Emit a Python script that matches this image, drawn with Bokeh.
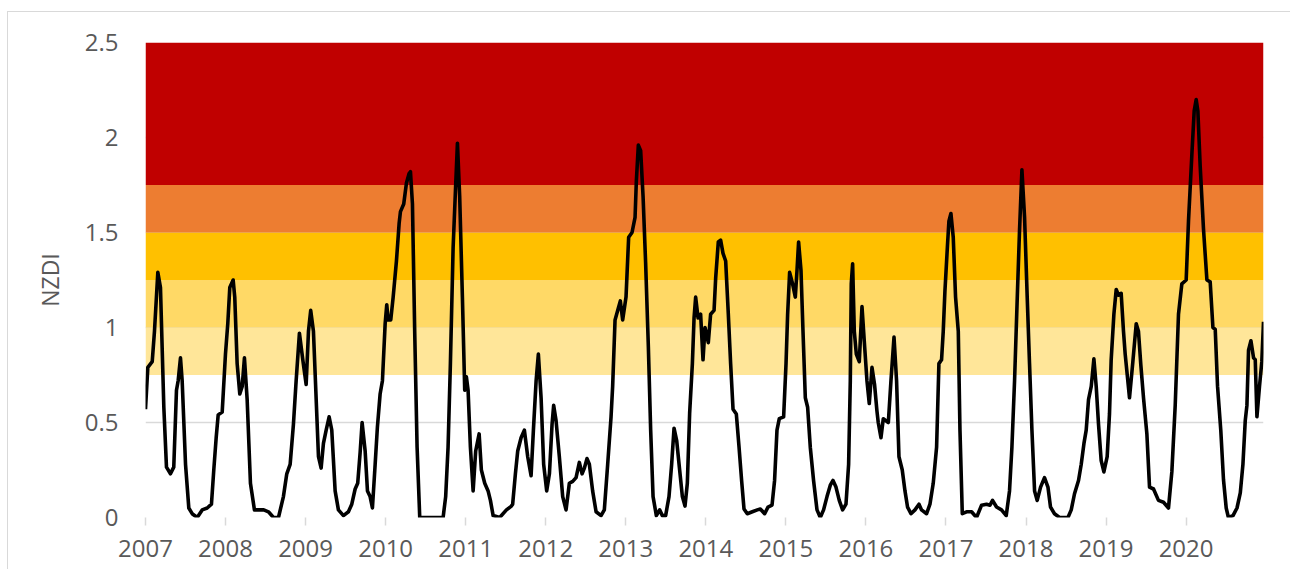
from bokeh.plotting import figure
from bokeh.models import FixedTicker, Range1d
from bokeh.embed import file_html
from bokeh.resources import INLINE

# ---- data ----
years_since_2007 = [
    0.000, 0.029, 0.084, 0.112, 0.154, 0.187, 0.229, 0.262, 0.312, 0.353, 0.387, 0.408, 0.437, 0.458,
    0.500, 0.541, 0.583, 0.646, 0.708, 0.771, 0.824, 0.853, 0.883, 0.908, 0.958, 0.999, 1.028, 1.053,
    1.095, 1.115, 1.145, 1.178, 1.208, 1.236, 1.270, 1.311, 1.361, 1.415, 1.477, 1.536, 1.599, 1.661,
    1.723, 1.765, 1.807, 1.848, 1.882, 1.923, 1.965, 2.007, 2.036, 2.064, 2.098, 2.139, 2.161, 2.194,
    2.223, 2.257, 2.294, 2.327, 2.369, 2.410, 2.473, 2.535, 2.577, 2.619, 2.651, 2.681, 2.706, 2.744,
    2.773, 2.806, 2.835, 2.869, 2.897, 2.931, 2.960, 2.994, 3.014, 3.031, 3.064, 3.094, 3.135, 3.169,
    3.185, 3.226, 3.260, 3.293, 3.310, 3.335, 3.363, 3.393, 3.426, 3.509, 3.718, 3.750, 3.780, 3.809,
    3.843, 3.872, 3.897, 3.925, 3.959, 3.988, 4.009, 4.030, 4.059, 4.093, 4.125, 4.168, 4.196, 4.238,
    4.280, 4.309, 4.343, 4.425, 4.509, 4.571, 4.587, 4.621, 4.650, 4.692, 4.733, 4.775, 4.817, 4.846,
    4.880, 4.908, 4.942, 4.974, 5.012, 5.046, 5.079, 5.099, 5.129, 5.170, 5.212, 5.254, 5.295, 5.337,
    5.379, 5.420, 5.454, 5.483, 5.516, 5.545, 5.586, 5.629, 5.691, 5.732, 5.774, 5.816, 5.836, 5.866,
    5.899, 5.932, 5.961, 6.003, 6.036, 6.078, 6.116, 6.132, 6.157, 6.186, 6.216, 6.248, 6.282, 6.311,
    6.341, 6.382, 6.423, 6.457, 6.498, 6.540, 6.573, 6.603, 6.636, 6.673, 6.707, 6.740, 6.769, 6.798,
    6.832, 6.853, 6.873, 6.903, 6.935, 6.965, 6.990, 7.031, 7.060, 7.103, 7.123, 7.156, 7.185, 7.215,
    7.248, 7.281, 7.310, 7.340, 7.381, 7.415, 7.447, 7.477, 7.518, 7.581, 7.643, 7.681, 7.735, 7.777,
    7.827, 7.859, 7.889, 7.918, 7.972, 8.002, 8.022, 8.047, 8.084, 8.118, 8.139, 8.159, 8.189, 8.214,
    8.243, 8.272, 8.305, 8.346, 8.389, 8.430, 8.471, 8.514, 8.555, 8.589, 8.626, 8.667, 8.709, 8.751,
    8.784, 8.805, 8.817, 8.834, 8.855, 8.880, 8.917, 8.951, 8.984, 9.013, 9.042, 9.076, 9.108, 9.138,
    9.154, 9.188, 9.217, 9.280, 9.313, 9.351, 9.383, 9.413, 9.454, 9.488, 9.520, 9.563, 9.613, 9.663,
    9.695, 9.758, 9.800, 9.841, 9.883, 9.912, 9.945, 9.966, 9.987, 10.020, 10.037, 10.062, 10.091, 10.120,
    10.154, 10.175, 10.204, 10.257, 10.320, 10.382, 10.445, 10.507, 10.550, 10.582, 10.632, 10.694, 10.753, 10.794,
    10.824, 10.857, 10.891, 10.919, 10.949, 10.982, 11.015, 11.044, 11.074, 11.107, 11.140, 11.182, 11.231, 11.274,
    11.306, 11.356, 11.419, 11.524, 11.565, 11.606, 11.656, 11.690, 11.724, 11.752, 11.781, 11.815, 11.848, 11.877,
    11.906, 11.939, 11.973, 12.014, 12.043, 12.064, 12.098, 12.127, 12.155, 12.189, 12.218, 12.239, 12.293, 12.335,
    12.377, 12.405, 12.435, 12.468, 12.510, 12.543, 12.593, 12.655, 12.718, 12.780, 12.822, 12.864, 12.905, 12.947,
    13.001, 13.030, 13.072, 13.101, 13.126, 13.147, 13.176, 13.217, 13.260, 13.301, 13.335, 13.364, 13.393, 13.434,
    13.467, 13.501, 13.529, 13.586, 13.636, 13.677, 13.710, 13.739, 13.760, 13.780, 13.810, 13.843, 13.864, 13.885,
    13.917, 13.946, 13.967,
]
nzdi = [
    0.57, 0.79, 0.82, 0.98, 1.29, 1.21, 0.58, 0.265, 0.23, 0.265, 0.67, 0.72, 0.84, 0.72,
    0.28, 0.05, 0.02, 0.00, 0.04, 0.05, 0.07, 0.25, 0.42, 0.54, 0.555, 0.86, 1.02, 1.21,
    1.25, 1.16, 0.81, 0.65, 0.69, 0.84, 0.62, 0.18, 0.04, 0.04, 0.04, 0.03, 0.00, 0.00,
    0.11, 0.23, 0.28, 0.49, 0.72, 0.97, 0.83, 0.70, 0.98, 1.09, 0.98, 0.55, 0.32, 0.26,
    0.39, 0.46, 0.53, 0.46, 0.14, 0.04, 0.01, 0.03, 0.07, 0.15, 0.18, 0.34, 0.50, 0.35,
    0.14, 0.11, 0.05, 0.28, 0.475, 0.65, 0.72, 1.02, 1.12, 1.04, 1.04, 1.16, 1.35, 1.55,
    1.61, 1.65, 1.76, 1.81, 1.82, 1.65, 0.98, 0.37, 0.00, 0.00, 0.00, 0.11, 0.37, 0.81,
    1.42, 1.72, 1.97, 1.69, 1.16, 0.67, 0.74, 0.67, 0.37, 0.14, 0.35, 0.44, 0.25, 0.18,
    0.14, 0.09, 0.01, 0.00, 0.04, 0.06, 0.07, 0.23, 0.35, 0.42, 0.46, 0.32, 0.22, 0.46,
    0.72, 0.86, 0.63, 0.28, 0.14, 0.23, 0.49, 0.59, 0.51, 0.32, 0.11, 0.04, 0.18, 0.19,
    0.21, 0.29, 0.23, 0.26, 0.31, 0.28, 0.14, 0.03, 0.01, 0.04, 0.28, 0.53, 0.69, 1.04,
    1.09, 1.14, 1.04, 1.16, 1.475, 1.50, 1.58, 1.77, 1.96, 1.93, 1.69, 1.34, 0.90, 0.46,
    0.11, 0.01, 0.04, 0.01, 0.01, 0.11, 0.28, 0.47, 0.405, 0.25, 0.11, 0.06, 0.18, 0.55,
    0.81, 1.05, 1.16, 1.05, 1.07, 0.83, 1.00, 0.92, 1.07, 1.09, 1.26, 1.45, 1.46, 1.39,
    1.35, 1.07, 0.81, 0.57, 0.545, 0.37, 0.195, 0.045, 0.02, 0.03, 0.04, 0.045, 0.02, 0.055,
    0.065, 0.195, 0.46, 0.52, 0.53, 0.81, 1.07, 1.29, 1.23, 1.16, 1.30, 1.45, 1.30, 0.98,
    0.63, 0.58, 0.37, 0.195, 0.04, 0.00, 0.04, 0.11, 0.17, 0.195, 0.16, 0.09, 0.04, 0.07,
    0.28, 0.72, 1.23, 1.335, 0.98, 0.86, 0.82, 1.11, 0.90, 0.72, 0.60, 0.79, 0.70, 0.56,
    0.50, 0.42, 0.52, 0.50, 0.72, 0.95, 0.72, 0.32, 0.25, 0.14, 0.055, 0.02, 0.04, 0.07,
    0.04, 0.02, 0.07, 0.18, 0.37, 0.81, 0.83, 0.98, 1.19, 1.44, 1.56, 1.60, 1.475, 1.16,
    0.98, 0.46, 0.02, 0.03, 0.03, 0.00, 0.065, 0.07, 0.065, 0.09, 0.055, 0.04, 0.01, 0.14,
    0.37, 0.72, 1.16, 1.51, 1.83, 1.58, 1.16, 0.81, 0.46, 0.14, 0.09, 0.16, 0.21, 0.16,
    0.055, 0.02, 0.00, 0.00, 0.04, 0.125, 0.195, 0.28, 0.39, 0.46, 0.62, 0.69, 0.835, 0.69,
    0.49, 0.30, 0.24, 0.32, 0.545, 0.83, 1.07, 1.20, 1.17, 1.18, 0.98, 0.86, 0.63, 0.82,
    1.02, 0.98, 0.80, 0.63, 0.44, 0.16, 0.15, 0.09, 0.08, 0.05, 0.24, 0.59, 1.07, 1.23,
    1.25, 1.56, 1.91, 2.14, 2.20, 2.14, 1.85, 1.52, 1.25, 1.24, 1.00, 0.99, 0.69, 0.455,
    0.20, 0.05, 0.00, 0.01, 0.05, 0.13, 0.28, 0.51, 0.59, 0.88, 0.93, 0.84, 0.83, 0.53,
    0.69, 0.82, 1.03,
]
first_year = 2007
years = [first_year + t for t in years_since_2007]

band_low = [0.75, 1.00, 1.25, 1.50, 1.75]
band_high = [1.00, 1.25, 1.50, 1.75, 2.50]
band_colors = ["#FFE699", "#FFD966", "#FFC000", "#ED7D31", "#C00000"]

year_ticks = list(range(2007, 2021))
y_ticks = [0, 0.5, 1, 1.5, 2, 2.5]
y_tick_labels = ["0", "0.5", "1", "1.5", "2", "2.5"]

x_start, x_end = years[0], years[-1]

p = figure(
    output_backend="svg", toolbar_location=None,
    frame_width=1118, frame_height=475,
    min_border_left=137, min_border_right=27, min_border_top=30, min_border_bottom=52,
    x_range=Range1d(x_start, x_end), y_range=Range1d(0, 2.5),
    background_fill_color="white", border_fill_color="white",
)
p.styles = {"margin-top": "11px", "margin-left": "7px",
            "border-top": "1px solid #D9D9D9", "border-left": "1px solid #D9D9D9"}
p.outline_line_color = None

p.quad(left=[x_start] * len(band_low), right=[x_end] * len(band_low),
       bottom=band_low, top=band_high, fill_color=band_colors, line_color=None)

p.line(years, nzdi, line_color="black", line_width=3.6, line_join="round")

FONT = "Open Sans"
GREY = "#595959"

p.xgrid.grid_line_color = None
p.ygrid.ticker = FixedTicker(ticks=y_ticks)
p.ygrid.grid_line_color = "#D9D9D9"
p.ygrid.grid_line_width = 1.5

p.xaxis.ticker = FixedTicker(ticks=year_ticks)
p.xaxis.major_label_overrides = {y: str(y) for y in year_ticks}
p.xaxis.axis_line_color = None
p.xaxis.major_tick_line_color = "#D9D9D9"
p.xaxis.major_tick_line_width = 1.5
p.xaxis.major_tick_in = 0
p.xaxis.major_tick_out = 8
p.xaxis.minor_tick_line_color = None
p.xaxis.major_label_standoff = 14
p.xaxis.major_label_text_font = FONT
p.xaxis.major_label_text_font_size = "24px"
p.xaxis.major_label_text_color = GREY

p.yaxis.ticker = FixedTicker(ticks=y_ticks)
p.yaxis.major_label_overrides = dict(zip(y_ticks, y_tick_labels))
p.yaxis.axis_line_color = None
p.yaxis.major_tick_line_color = None
p.yaxis.minor_tick_line_color = None
p.yaxis.major_tick_in = 0
p.yaxis.major_tick_out = 0
p.yaxis.major_label_standoff = 27
p.yaxis.major_label_text_font = FONT
p.yaxis.major_label_text_font_size = "24px"
p.yaxis.major_label_text_color = GREY
p.yaxis.axis_label = "NZDI"
p.yaxis.axis_label_text_font = FONT
p.yaxis.axis_label_text_font_style = "normal"
p.yaxis.axis_label_text_font_size = "23px"
p.yaxis.axis_label_text_color = GREY
p.yaxis.axis_label_standoff = 16

open("out.html", "w").write(file_html(p, INLINE))
